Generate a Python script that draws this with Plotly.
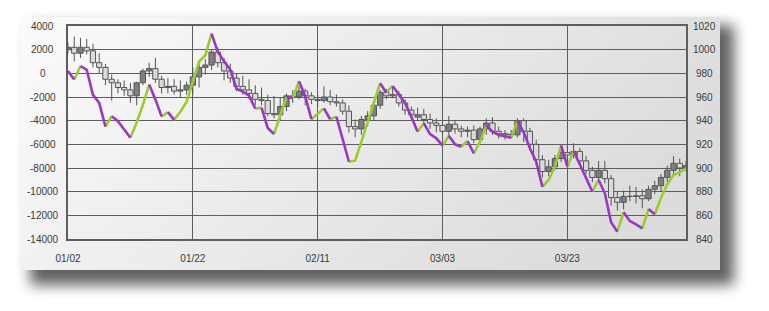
import base64
import pandas as pd
import plotly.graph_objects as go

# ---------------- data ----------------
start_date = "2013-01-02"
n_days = 100
dates = pd.date_range(start_date, periods=n_days, freq="D")

opens = [1000, 1002, 997, 1002, 999, 989, 985, 975, 972, 968,
         966, 961, 972, 982, 984, 975, 968, 969, 965, 966,
         970, 977, 985, 987, 998, 989, 982, 976, 969, 966,
         963, 958, 957, 946, 945, 952, 961, 960, 965, 961,
         958, 957, 960, 956, 955, 948, 935, 933, 941, 944,
         953, 964, 961, 962, 955, 949, 943, 945, 941, 938,
         936, 931, 937, 933, 931, 932, 924, 933, 938, 931,
         929, 928, 928, 940, 931, 920, 907, 897, 901, 908,
         913, 911, 914, 906, 898, 892, 898, 891, 875, 871,
         876, 876, 876.5, 874, 882, 885, 892, 898, 904, 900]
closes = [1002, 997, 1002, 999, 989, 985, 975, 972, 968, 966,
          961, 972, 982, 984, 975, 968, 969, 965, 966, 970,
          977, 985, 987, 998, 989, 982, 976, 969, 966, 963,
          958, 957, 946, 945, 952, 961, 960, 965, 961, 958,
          957, 960, 956, 955, 948, 935, 933, 941, 944, 953,
          964, 961, 962, 955, 949, 945, 945, 941, 938, 936,
          931, 937, 933, 931, 932, 924, 933, 938, 931, 929,
          928, 928.5, 940, 931, 920, 907, 897, 901, 908, 913,
          911, 914, 906, 898, 892, 898, 891, 875, 871, 876,
          876, 876.5, 874, 882, 885, 892, 898, 904, 900, 902]
highs = [1006, 1011, 1010, 1009, 1005, 997, 988, 979, 975, 974,
         972, 973, 984, 989, 993, 978, 976, 975, 974, 973,
         985, 990, 992, 1000, 1002, 993, 988, 980, 978, 975,
         970, 968, 962, 961, 960, 963, 966, 969, 967, 964,
         962, 969, 966, 962, 958, 953, 941, 944, 948, 955,
         966, 967, 968, 965, 958, 952, 951, 950, 946, 942,
         940, 944, 940, 936, 935, 936, 935, 942, 943, 935,
         932, 932, 942, 942, 934, 924, 911, 907, 911, 918,
         919, 921, 917, 910, 901, 906, 906, 894, 880, 881,
         885, 884, 882, 885, 889, 895, 902, 910, 908, 906]
lows = [997, 990, 993, 996, 985, 980, 970, 957, 963, 961,
        955, 953, 970, 977, 972, 963, 963, 962, 960, 962,
        962, 968, 979, 983, 985, 974, 972, 965, 962, 958,
        953, 953, 944, 942, 940, 948, 955, 958, 953, 954,
        952, 955, 953, 952, 945, 930, 926, 928, 935, 940,
        950, 958, 959, 952, 945, 941, 940, 937, 933, 930,
        928, 927, 929, 926, 926, 921, 922, 928, 928, 925,
        924, 925, 926, 922, 915, 903, 892, 893, 898, 905,
        903, 908, 902, 895, 888, 889, 887, 868, 864, 865,
        872, 870, 866, 872, 878, 880, 888, 895, 893, 897]

indicator = [200, -520, 620, 300, -1820, -2500, -4500, -3620, -4050, -4750,
             -5450, -4150, -2670, -950, -2200, -3650, -3280, -3930, -3250, -2410,
             -760, 1000, 1530, 3350, 1810, 1020, 300, -1320, -1550, -1880,
             -2980, -2900, -4620, -5130, -3500, -2000, -2080, -670, -1940, -3880,
             -3450, -2960, -3880, -3660, -5570, -7470, -7380, -5770, -4090, -2530,
             -840, -1640, -1070, -1750, -2530, -3660, -4930, -4220, -5130, -5490,
             -6110, -5270, -6000, -6200, -5720, -6760, -5770, -4420, -4930, -5210,
             -5350, -5440, -4030, -4980, -6330, -7470, -9600, -9000, -7900, -6080,
             -7890, -6560, -7750, -8870, -10000, -9010, -10140, -12590, -13380, -11740,
             -12480, -12760, -13100, -11460, -11910, -10510, -9380, -8590, -8360, -8020]

left_ticks = [4000, 2000, 0, -2000, -4000, -6000, -8000, -10000, -12000, -14000]
right_ticks = [1020, 1000, 980, 960, 940, 920, 900, 880, 860, 840]
x_tick_step_days = 20

# ---------------- styles ----------------
RISE = "#9BCB30"
FALL = "#9B38C2"
UP_FILL = "#7f7f7f"
DOWN_FILL = "#dadada"
EDGE = "#555555"
GRID = "#5e5e5e"
FONT = dict(family="Segoe UI, Liberation Sans, Arial, sans-serif", size=10, color="#3a3a3a")
DAY_MS = 86400000

W, H = 769, 311
ML, MR, MT, MB = 68, 83, 26, 72
PW, PH = W - ML - MR, H - MT - MB

fig = go.Figure()

# candle wicks (upper and lower parts, outside the body)
wx, wy = [], []
for d, o, c, h, l in zip(dates, opens, closes, highs, lows):
    top, bot = max(o, c), min(o, c)
    wx += [d, d, None, d, d, None]
    wy += [h, top, None, bot, l, None]
fig.add_trace(go.Scatter(x=wx, y=wy, mode="lines", yaxis="y",
                         line=dict(color=EDGE, width=1), showlegend=False, hoverinfo="skip"))

# candle bodies
body_base = [min(o, c) for o, c in zip(opens, closes)]
body_len = [abs(c - o) for o, c in zip(opens, closes)]
body_fill = [UP_FILL if c >= o else DOWN_FILL for o, c in zip(opens, closes)]
fig.add_trace(go.Bar(x=dates, y=body_len, base=body_base, yaxis="y",
                     width=[0.84 * DAY_MS] * n_days,
                     marker=dict(color=body_fill, line=dict(color=EDGE, width=1)),
                     showlegend=False, hoverinfo="skip"))

# split the indicator into rising / falling runs
runs = {RISE: ([], []), FALL: ([], [])}
cur = None
for i in range(len(indicator) - 1):
    col = RISE if indicator[i + 1] >= indicator[i] else FALL
    xs, ys = runs[col]
    if col != cur:
        if xs:
            xs.append(None); ys.append(None)
        xs.append(dates[i]); ys.append(indicator[i])
        cur = col
    xs.append(dates[i + 1]); ys.append(indicator[i + 1])

for col in (RISE, FALL):
    xs, ys = runs[col]
    fig.add_trace(go.Scatter(x=xs, y=ys, mode="lines", yaxis="y2",
                             line=dict(color=col, width=2.6),
                             connectgaps=False, showlegend=False, hoverinfo="skip"))

# background panel with gradient + drop shadow
svg = f'''<svg xmlns="http://www.w3.org/2000/svg" width="{W}" height="{H}" viewBox="0 0 {W} {H}">
<defs>
<linearGradient id="g" x1="0" y1="0" x2="1" y2="0.35">
<stop offset="0" stop-color="#fbfbfb"/><stop offset="1" stop-color="#dcdcdc"/>
</linearGradient>
<filter id="s" x="-10%" y="-10%" width="125%" height="140%"><feGaussianBlur stdDeviation="7"/></filter>
</defs>
<rect width="{W}" height="{H}" fill="#ffffff"/>
<rect x="30" y="25" width="704" height="260" fill="#000000" opacity="0.62" filter="url(#s)"/>
<rect x="20" y="17" width="700" height="253" fill="url(#g)"/>
</svg>'''
src = "data:image/svg+xml;base64," + base64.b64encode(svg.encode()).decode()

annotations = []
for v in left_ticks:
    annotations.append(dict(text=f"{v}", xref="paper", yref="y2", x=(42.5 - ML) / PW, y=v,
                            xanchor="center", yanchor="middle", showarrow=False, font=FONT))
for v in right_ticks:
    annotations.append(dict(text=f"{v}", xref="paper", yref="y", x=(704 - ML) / PW, y=v,
                            xanchor="center", yanchor="middle", showarrow=False, font=FONT))

x_end = dates[0] + pd.Timedelta(days=n_days - 1)

fig.update_layout(
    width=W, height=H,
    margin=dict(l=ML, r=MR, t=MT, b=MB, pad=0),
    paper_bgcolor="#ffffff", plot_bgcolor="rgba(0,0,0,0)",
    font=FONT,
    images=[dict(source=src, xref="paper", yref="paper", x=-ML / PW, y=1 + MT / PH,
                 sizex=W / PW, sizey=H / PH, xanchor="left", yanchor="top",
                 sizing="stretch", layer="below")],
    xaxis=dict(type="date", range=[dates[0], x_end], tick0=dates[0],
               dtick=x_tick_step_days * DAY_MS, tickformat="%m/%d",
               showgrid=True, gridcolor=GRID, gridwidth=1.3,
               showline=True, linecolor=GRID, linewidth=1.5, mirror=True,
               ticks="outside", ticklen=9, tickcolor="rgba(0,0,0,0)",
               zeroline=False, tickfont=FONT),
    yaxis=dict(range=[840, 1020], dtick=20, side="right",
               showgrid=True, gridcolor=GRID, gridwidth=1.3,
               showline=True, linecolor=GRID, linewidth=1.5, mirror=True,
               showticklabels=False, zeroline=False),
    yaxis2=dict(range=[-14000, 4000], overlaying="y", side="left",
                showgrid=False, showticklabels=False, zeroline=False, showline=False),
    annotations=annotations,
)

fig.write_html("out.html")
